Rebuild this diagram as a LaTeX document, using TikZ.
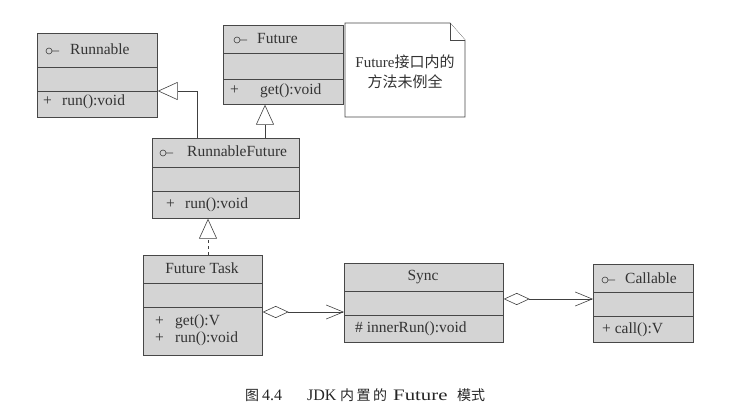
\documentclass[tikz,border=0pt]{standalone}
\usepackage{fontspec}
\setmainfont{Liberation Serif}
\newfontfamily\cjk{Noto Sans CJK SC}
\usetikzlibrary{arrows.meta}
\newcommand\umlcls[7]{%
  \node[classbox, minimum width={#4-#2}, minimum height={#5-#3}] (#1) at (#2,#3) {};
  \draw[divline] (#2,#6) -- (#4,#6);
  \draw[divline] (#2,#7) -- (#4,#7);
}
\newcommand\ifaceicon[2]{\draw[iconline] (#1,#2) circle (3) ++(3,0) -- ++(7,0);}
\begin{document}
\begin{tikzpicture}[x=1pt,y=-1pt,
  classbox/.style={draw=black!72, fill=black!17, line width=0.7pt, inner sep=0pt, anchor=north west},
  divline/.style={draw=black!72, line width=0.7pt},
  iconline/.style={draw=black!75, line width=0.6pt},
  txt/.style={font=\fontsize{15.5}{18}\selectfont, text=black!80, inner sep=0pt, text height=11pt, text depth=3pt},
  lt/.style={txt, anchor=west},
  notebox/.style={draw=black!72, fill=white, line width=0.7pt},
  gen/.style={draw=black!75, line width=0.6pt, -{Triangle[open,length=20pt,width=18pt,fill=white]}},
  agg/.style={draw=black!75, line width=0.6pt, {Diamond[open,length=26pt,width=12pt,fill=white]}-{Straight Barb[length=17pt,width=14pt]}}
]
\useasboundingbox[fill=white] (0,0) rectangle (749,419);

% classes
\umlcls{rn}{37}{33}{157}{117}{67}{91}
\umlcls{fu}{223}{25}{343}{104}{53}{79}
\umlcls{rf}{152}{138}{299}{218}{167}{191}
\umlcls{ft}{143}{255}{262}{355}{283}{307}
\umlcls{sy}{344}{263}{503}{342}{291}{315}
\umlcls{ca}{593}{264}{693}{342}{292}{316}

% Runnable
\ifaceicon{49}{51}
\node[lt] (rnname) at (70,51) {Runnable};
\node[lt] (rnplus) at (43,102) {+};
\node[lt] (rnop) at (62,102) {run():void};

% Future
\ifaceicon{237}{40}
\node[lt] (funame) at (257,40) {Future};
\node[lt] (fuplus) at (230,91) {+};
\node[lt] (fuop) at (260,91) {get():void};

% RunnableFuture
\ifaceicon{163}{153}
\node[lt] (rfname) at (187,153) {RunnableFuture};
\node[lt] (rfplus) at (166,205) {+};
\node[lt] (rfop) at (185,205) {run():void};

% FutureTask
\node[txt] (ftname) at (202,270) {Future Task};
\node[lt] (ftplus1) at (155,322) {+};
\node[lt] (ftop1) at (175,322) {get():V};
\node[lt] (ftplus2) at (155,338) {+};
\node[lt] (ftop2) at (175,338) {run():void};

% Sync
\node[txt] (syname) at (423,277) {Sync};
\node[lt] (syop) at (355,329) {\# innerRun():void};

% Callable
\ifaceicon{605}{280}
\node[lt] (caname) at (625,280) {Callable};
\node[lt] (caop) at (602,330) {+ call():V};

% note
\draw[notebox] (345,23) -- (450,23) -- (465,40) -- (465,117) -- (345,117) -- cycle;
\draw[notebox] (450,23) -- (450,40) -- (465,40);
\node[align=center, font=\fontsize{15}{20}\selectfont, text=black!80, inner sep=0pt] (nt) at (405,72) {Future{\cjk 接口内的}\\{\cjk 方法未例全}};

% connectors
\coordinate (rnbend) at (197,0);
\coordinate (fubend) at (265,0);
\coordinate (ftup) at (208,0);
\coordinate (agga) at (0,312);
\coordinate (aggb) at (0,299);
\coordinate (rnd) at (0,91);
\draw[gen] (rf.north -| rnbend) |- (rn.east |- rnd);
\draw[gen] (rf.north -| fubend) -- (fu.south -| fubend);
\draw[gen, dashed] (ft.north -| ftup) -- (rf.south -| ftup);
\draw[agg] (ft.east |- agga) -- (sy.west |- agga);
\draw[agg] (sy.east |- aggb) -- (ca.west |- aggb);

% caption
\node[font=\fontsize{16}{16}\selectfont, text=black!85, inner sep=0pt, anchor=west] (cap) at (245,395)
  {\makebox[17pt][l]{\cjk\fontsize{14}{16}\selectfont 图}%
   \makebox[45pt][l]{4.4}%
   \makebox[33pt][l]{JDK}%
   \makebox[53pt][l]{\makebox[47pt][s]{\cjk\fontsize{14}{16}\selectfont 内\hfill 置\hfill 的}}%
   \makebox[64pt][l]{\scalebox{1.3}[1]{Future}}%
   \makebox[28pt][s]{\cjk\fontsize{14}{16}\selectfont 模\hfill 式}};
\end{tikzpicture}
\end{document}
